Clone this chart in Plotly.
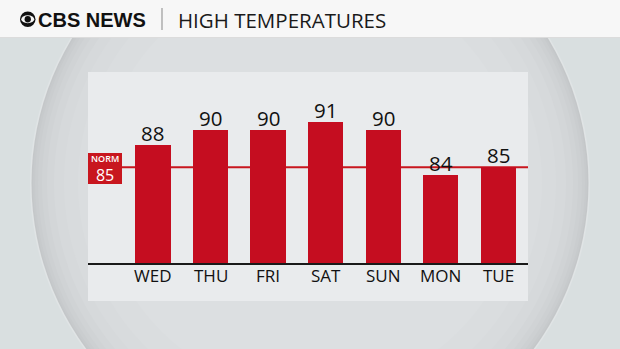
import plotly.graph_objects as go

# ---- data ----
days = ["WED", "THU", "FRI", "SAT", "SUN", "MON", "TUE"]
highs = [88, 90, 90, 91, 90, 84, 85]
normal_high = 85
title_text = "HIGH TEMPERATURES"
brand_text = "CBS NEWS"
norm_label = "NORM"

W, H = 620, 349


def px(x):
    return x / W


def py(y):
    return (H - y) / H


BAR_RED = "#c50d20"
LINE_RED = "#c8161e"
FONT = "Open Sans"

fig = go.Figure()
fig.add_trace(go.Bar(
    x=list(range(len(days))),
    y=highs,
    width=0.61,
    marker=dict(color=BAR_RED, line=dict(width=0)),
    hoverinfo="skip",
))

shapes = []
# sphere background (concentric circles, smooth gradient)
cx, cy = 310, 183
rings = [(280, "#e0e4e5"), (278.5, "#c4c7c9"), (277, "#c7cacc"), (275, "#cacdcf"),
         (272, "#cdd0d2"), (268, "#d0d3d5"), (263, "#d3d6d8"), (256, "#d6d9db"),
         (246, "#d8dbdd"), (232, "#dadddf"), (210, "#dcdfe1")]
for r, col in rings:
    shapes.append(dict(type="circle", xref="paper", yref="paper",
                       x0=px(cx - r), x1=px(cx + r), y0=py(cy + r), y1=py(cy - r),
                       fillcolor=col, line=dict(width=0), layer="below"))
# header
shapes.append(dict(type="rect", xref="paper", yref="paper",
                   x0=0, x1=1, y0=py(37), y1=1.0,
                   fillcolor="#f7f7f7", line=dict(width=0), layer="below"))
shapes.append(dict(type="line", xref="paper", yref="paper",
                   x0=0, x1=1, y0=py(37.5), y1=py(37.5),
                   line=dict(color="#dcdcdc", width=1), layer="below"))
# separator
shapes.append(dict(type="line", xref="paper", yref="paper",
                   x0=px(162), x1=px(162), y0=py(8), y1=py(30),
                   line=dict(color="#9a9a9a", width=1.2), layer="above"))
# CBS eye
shapes.append(dict(type="circle", xref="paper", yref="paper",
                   x0=px(20), x1=px(35.5), y0=py(27), y1=py(11.5),
                   fillcolor="#111111", line=dict(width=0), layer="above"))
shapes.append(dict(type="circle", xref="paper", yref="paper",
                   x0=px(21.3), x1=px(34.2), y0=py(23.2), y1=py(15.3),
                   fillcolor="#f7f7f7", line=dict(width=0), layer="above"))
shapes.append(dict(type="circle", xref="paper", yref="paper",
                   x0=px(24.6), x1=px(30.9), y0=py(22.4), y1=py(16.1),
                   fillcolor="#111111", line=dict(width=0), layer="above"))
# chart panel
shapes.append(dict(type="rect", xref="paper", yref="paper",
                   x0=px(88), x1=px(528), y0=py(301), y1=py(72),
                   fillcolor="#e9ebed", line=dict(width=0), layer="below"))
# normal line
shapes.append(dict(type="line", xref="paper", yref="y",
                   x0=px(88), x1=px(528), y0=normal_high, y1=normal_high,
                   line=dict(color=LINE_RED, width=2), layer="below"))
# norm box
shapes.append(dict(type="rect", xref="paper", yref="paper",
                   x0=px(88), x1=px(122), y0=py(184), y1=py(153),
                   fillcolor=LINE_RED, line=dict(width=0), layer="above"))

annotations = [
    dict(text="<b>" + brand_text + "</b>", xref="paper", yref="paper", x=px(36), y=py(19.5),
         xanchor="left", yanchor="middle", showarrow=False,
         font=dict(family="Liberation Sans", size=20, color="#111111")),
    dict(text=title_text, xref="paper", yref="paper", x=px(176), y=py(19.5),
         xanchor="left", yanchor="middle", showarrow=False,
         font=dict(family=FONT, size=20.5, color="#1a1a1a", weight=500)),
    dict(text="<span style='font-size:9px;font-weight:600'>" + norm_label + "</span><br>"
              "<span style='font-size:16px'>" + str(normal_high) + "</span>",
         xref="paper", yref="paper", x=px(105), y=py(168.5),
         xanchor="center", yanchor="middle", showarrow=False, borderpad=0,
         font=dict(family=FONT, size=14.5, color="white")),
]
# value labels above bars
for i, v in enumerate(highs):
    annotations.append(dict(text=str(v), x=i, y=v, xref="x", yref="y",
                            xanchor="center", yanchor="bottom", yshift=-4,
                            showarrow=False,
                            font=dict(family=FONT, size=20.5, color="#111111", weight=500)))
# day labels below baseline
for i, d in enumerate(days):
    annotations.append(dict(text=d, x=i, y=py(275), xref="x", yref="paper",
                            xanchor="center", yanchor="middle", showarrow=False,
                            font=dict(family=FONT, size=17, color="#111111", weight=500)))

fig.update_layout(
    width=W, height=H,
    margin=dict(l=0, r=0, t=0, b=0),
    paper_bgcolor="#d9dfe0",
    plot_bgcolor="rgba(0,0,0,0)",
    showlegend=False,
    shapes=shapes,
    annotations=annotations,
    bargap=0,
    xaxis=dict(
        domain=[px(88), px(528)],
        range=[-1.13, 6.52],
        showticklabels=False,
        showline=True, linecolor="#1a1a1a", linewidth=2,
        showgrid=False, zeroline=False, ticks="",
        fixedrange=True,
    ),
    yaxis=dict(
        domain=[py(263), py(72)],
        range=[72.2, 97.7],
        visible=False,
        showgrid=False, zeroline=False,
        fixedrange=True,
    ),
)

fig.write_html("out.html")
